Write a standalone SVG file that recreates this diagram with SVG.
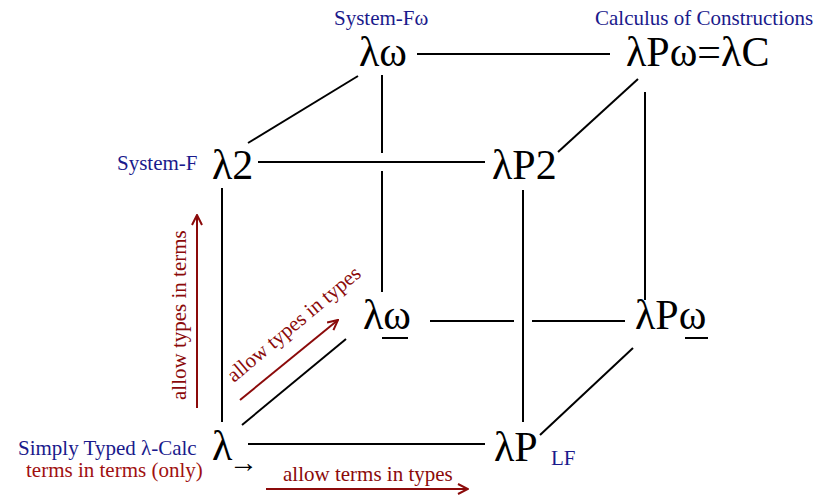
<svg xmlns="http://www.w3.org/2000/svg" width="834" height="498" viewBox="0 0 834 498">
<defs>
<style>
.big{font-family:"Liberation Serif","Times New Roman",serif;font-size:42px;fill:#000}
.lbl{font-family:"Liberation Serif","Times New Roman",serif;font-size:21px;fill:#1a1a8c}
.red{font-family:"Liberation Serif","Times New Roman",serif;font-size:21px;fill:#8b0a0a}
.edge{stroke:#000;stroke-width:2;fill:none}
.arr{stroke:#8b0a0a;stroke-width:2;fill:none;marker-end:url(#ah)}
.ul{stroke:#000;stroke-width:2}
</style>
<marker id="ah" viewBox="0 0 12 12" refX="11" refY="6" markerWidth="12" markerHeight="12" markerUnits="userSpaceOnUse" orient="auto">
<path d="M1,1 L11,6 L1,11" fill="none" stroke="#8b0a0a" stroke-width="2"/>
</marker>
</defs>
<rect width="834" height="498" fill="#fff"/>
<g id="connectors">
<line class="edge" x1="417" y1="54" x2="610" y2="54"/>
<line class="edge" x1="382" y1="75" x2="382" y2="153"/>
<line class="edge" x1="382" y1="171" x2="382" y2="292"/>
<line class="edge" x1="258" y1="162" x2="485" y2="162"/>
<line class="edge" x1="248" y1="143" x2="358" y2="76"/>
<line class="edge" x1="558" y1="152" x2="638" y2="79"/>
<line class="edge" x1="645" y1="92" x2="645" y2="300"/>
<line class="edge" x1="222" y1="188" x2="222" y2="422"/>
<line class="edge" x1="523" y1="190" x2="523" y2="422"/>
<line class="edge" x1="430" y1="321" x2="514" y2="321"/>
<line class="edge" x1="532" y1="321" x2="625" y2="321"/>
<line class="edge" x1="242" y1="425" x2="346" y2="339"/>
<line class="edge" x1="248" y1="444" x2="485" y2="444"/>
<line class="edge" x1="540" y1="435" x2="633" y2="348"/>
<line class="arr" x1="197" y1="408" x2="197" y2="215"/>
<line class="arr" x1="240" y1="400" x2="338" y2="320"/>
<line class="arr" x1="266" y1="489" x2="468" y2="489"/>
</g>
<g id="lambda-omega">
<text class="lbl" x="334" y="25">System-Fω</text>
<text class="big" x="359" y="66">λω</text>
</g>
<g id="lambda-C">
<text class="lbl" x="595" y="25">Calculus of Constructions</text>
<text class="big" x="626" y="66">λPω=λC</text>
</g>
<g id="lambda-2">
<text class="lbl" x="117" y="170">System-F</text>
<text class="big" x="212" y="179">λ2</text>
</g>
<g id="lambda-P2">
<text class="big" x="492" y="179">λP2</text>
</g>
<g id="lambda-omega-u">
<text class="big" x="363" y="329">λω</text>
<line class="ul" x1="382" y1="338" x2="408" y2="338"/>
</g>
<g id="lambda-P-omega-u">
<text class="big" x="635" y="329">λPω</text>
<line class="ul" x1="685" y1="338" x2="708" y2="338"/>
</g>
<g id="lambda-arrow">
<text class="lbl" x="18" y="455">Simply Typed λ-Calc</text>
<text class="red" x="26" y="477" style="fill:#a01010">terms in terms (only)</text>
<text class="big" x="212" y="460">λ</text>
<text x="229" y="472" style="font-family:'Liberation Serif',serif;font-size:29px">→</text>
</g>
<g id="lambda-P">
<text class="big" x="494" y="461">λP</text>
<text class="lbl" x="551" y="465">LF</text>
</g>
<g id="annotations">
<text class="red" x="283" y="481">allow terms in types</text>
<text class="red" transform="translate(186,400) rotate(-90)">allow types in terms</text>
<text class="red" transform="translate(234,383) rotate(-40)">allow types in types</text>
</g>
</svg>
